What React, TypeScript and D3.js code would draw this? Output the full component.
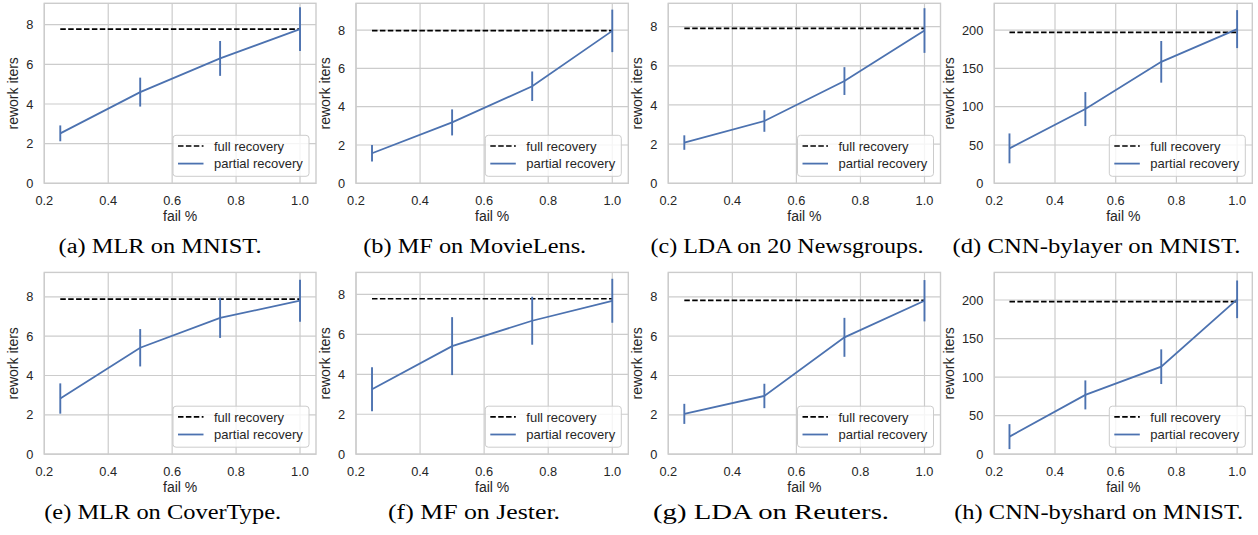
import React from 'react';
import * as d3 from 'd3';

// ---- data ----
const failPct = [0.25, 0.5, 0.75, 1.0];
const xTicks = [0.2, 0.4, 0.6, 0.8, 1.0];
const yTicksSmall = [0, 2, 4, 6, 8];
const yTicksCnn = [0, 50, 100, 150, 200];
const seriesNames = ['full recovery', 'partial recovery'];

const captions = [
  '(a) MLR on MNIST.',
  '(b) MF on MovieLens.',
  '(c) LDA on 20 Newsgroups.',
  '(d) CNN-bylayer on MNIST.',
  '(e) MLR on CoverType.',
  '(f) MF on Jester.',
  '(g) LDA on Reuters.',
  '(h) CNN-byshard on MNIST.',
];

const partialMlrMnist = [2.52, 4.6, 6.3, 7.78];
const errMlrMnist = [0.4, 0.73, 0.88, 1.1];
const partialMfMovieLens = [1.57, 3.18, 5.07, 7.96];
const errMfMovieLens = [0.43, 0.68, 0.77, 1.11];
const partialLda20News = [2.08, 3.18, 5.22, 7.8];
const errLda20News = [0.37, 0.55, 0.71, 1.14];
const partialCnnByLayer = [45.6, 96.9, 158.6, 201.3];
const errCnnByLayer = [19.5, 22.2, 27.2, 24.8];
const partialMlrCoverType = [2.83, 5.41, 6.93, 7.8];
const errMlrCoverType = [0.77, 0.95, 1.02, 1.07];
const partialMfJester = [3.25, 5.41, 6.68, 7.68];
const errMfJester = [1.1, 1.45, 1.2, 1.1];
const partialLdaReuters = [2.05, 2.96, 5.94, 7.8];
const errLdaReuters = [0.51, 0.62, 0.99, 1.05];
const partialCnnByShard = [22.8, 76.9, 113.5, 200.9];
const errCnnByShard = [16.2, 18.8, 22.5, 24.4];

const fullRecovery = [7.78, 7.97, 7.91, 197, 7.88, 7.78, 7.82, 197.8];
const yMax = [9.08, 9.4, 9.19, 235, 9.24, 9.1, 9.24, 235.8];

const partials = [
  partialMlrMnist, partialMfMovieLens, partialLda20News, partialCnnByLayer,
  partialMlrCoverType, partialMfJester, partialLdaReuters, partialCnnByShard,
];
const errs = [
  errMlrMnist, errMfMovieLens, errLda20News, errCnnByLayer,
  errMlrCoverType, errMfJester, errLdaReuters, errCnnByShard,
];
const yTickSets = [yTicksSmall, yTicksSmall, yTicksSmall, yTicksCnn, yTicksSmall, yTicksSmall, yTicksSmall, yTicksCnn];

// ---- layout ----
const W = 1258;
const H = 535;
const colLeft = [44.3, 356, 668.3, 994.3];
const colRight = [316, 628.3, 940.5, 1252.3];
const rowTop = [3.3, 272.4];
const rowBottom = [183.3, 454.2];
const captionX = [160, 474.7, 787, 1096.5, 162.7, 474, 771, 1098.7];
const captionW = [203, 223, 273, 288, 237, 172, 236, 289];
const captionY = [253, 519];

const BLUE = '#4c72b0';
const GRID = '#cccccc';
const TEXT = '#262626';
const SANS = '"Liberation Sans", Arial, sans-serif';
const SERIF = '"Liberation Serif", "Times New Roman", serif';
const TICK_FS = 12.8;
const LABEL_FS = 14;
const LEG_FS = 13;

function Panel({ i }: { i: number }) {
  const col = i % 4;
  const row = Math.floor(i / 4);
  const left = colLeft[col];
  const right = colRight[col];
  const top = rowTop[row];
  const bottom = rowBottom[row];
  const x = d3.scaleLinear().domain([0.2, 1.05]).range([left, right]);
  const y = d3.scaleLinear().domain([0, yMax[i]]).range([bottom, top]);
  const yTicks = yTickSets[i];
  const vals = partials[i];
  const err = errs[i];
  const pts = failPct.map((f, k) => [f, vals[k]] as [number, number]);
  const line = d3.line<[number, number]>().x((d) => x(d[0])).y((d) => y(d[1]));
  const maxLen = d3.max(yTicks, (t) => String(t).length) as number;
  const yLabelX = left - 11 - maxLen * 0.556 * TICK_FS - 8;
  const legW = 136;
  const legH = 41;
  const legX = right - 7 - legW;
  const legY = bottom - 7 - legH;
  return (
    <g>
      {/* grid */}
      {xTicks.map((t) => (
        <line key={'gx' + t} x1={x(t)} x2={x(t)} y1={top} y2={bottom} stroke={GRID} strokeWidth={1.2} />
      ))}
      {yTicks.map((t) => (
        <line key={'gy' + t} x1={left} x2={right} y1={y(t)} y2={y(t)} stroke={GRID} strokeWidth={1.2} />
      ))}
      <rect x={left} y={top} width={right - left} height={bottom - top} fill="none" stroke={GRID} strokeWidth={1.4} />
      {/* tick labels */}
      {xTicks.map((t) => (
        <text key={'tx' + t} x={x(t)} y={bottom + 21.7} textAnchor="middle" fontFamily={SANS} fontSize={TICK_FS} fill={TEXT}>
          {t.toFixed(1)}
        </text>
      ))}
      {yTicks.map((t) => (
        <text key={'ty' + t} x={left - 11} y={y(t)} dy="0.36em" textAnchor="end" fontFamily={SANS} fontSize={TICK_FS} fill={TEXT}>
          {t}
        </text>
      ))}
      <text x={(left + right) / 2} y={bottom + 38} textAnchor="middle" fontFamily={SANS} fontSize={LABEL_FS} fill={TEXT}>
        fail %
      </text>
      <text
        transform={`translate(${yLabelX},${(top + bottom) / 2}) rotate(-90)`}
        textAnchor="middle"
        fontFamily={SANS}
        fontSize={LABEL_FS}
        fill={TEXT}
      >
        rework iters
      </text>
      {/* full recovery */}
      <line
        x1={x(failPct[0])}
        x2={x(failPct[failPct.length - 1])}
        y1={y(fullRecovery[i])}
        y2={y(fullRecovery[i])}
        stroke="#000"
        strokeWidth={1.7}
        strokeDasharray="5.5,2.4"
      />
      {/* partial recovery */}
      <path d={line(pts) || ''} fill="none" stroke={BLUE} strokeWidth={1.8} />
      {failPct.map((f, k) => (
        <line key={'e' + k} x1={x(f)} x2={x(f)} y1={y(vals[k] - err[k])} y2={y(vals[k] + err[k])} stroke={BLUE} strokeWidth={1.9} />
      ))}
      {/* legend */}
      <rect x={legX} y={legY} width={legW} height={legH} rx={3} fill="#ffffff" fillOpacity={0.8} stroke={GRID} strokeWidth={1} />
      <line x1={legX + 5} x2={legX + 30.5} y1={legY + 10.7} y2={legY + 10.7} stroke="#000" strokeWidth={1.7} strokeDasharray="5.5,2.4" />
      <text x={legX + 41} y={legY + 10.7} dy="0.36em" fontFamily={SANS} fontSize={LEG_FS} fill={TEXT}>
        {seriesNames[0]}
      </text>
      <line x1={legX + 5} x2={legX + 30.5} y1={legY + 28.3} y2={legY + 28.3} stroke={BLUE} strokeWidth={1.8} />
      <text x={legX + 41} y={legY + 28.3} dy="0.36em" fontFamily={SANS} fontSize={LEG_FS} fill={TEXT}>
        {seriesNames[1]}
      </text>
      {/* caption */}
      <text
        x={captionX[i]}
        y={captionY[row]}
        textAnchor="middle"
        fontFamily={SERIF}
        fontSize={20.5}
        fill="#000"
        textLength={captionW[i]}
        lengthAdjust="spacingAndGlyphs"
      >
        {captions[i]}
      </text>
    </g>
  );
}

export default function App() {
  return (
    <svg
      width={W}
      height={H}
      viewBox={`0 0 ${W} ${H}`}
      style={{ position: 'absolute', left: 0, top: 0, background: '#fff' }}
    >
      <rect x={0} y={0} width={W} height={H} fill="#fff" />
      {captions.map((_, i) => (
        <Panel key={i} i={i} />
      ))}
    </svg>
  );
}
